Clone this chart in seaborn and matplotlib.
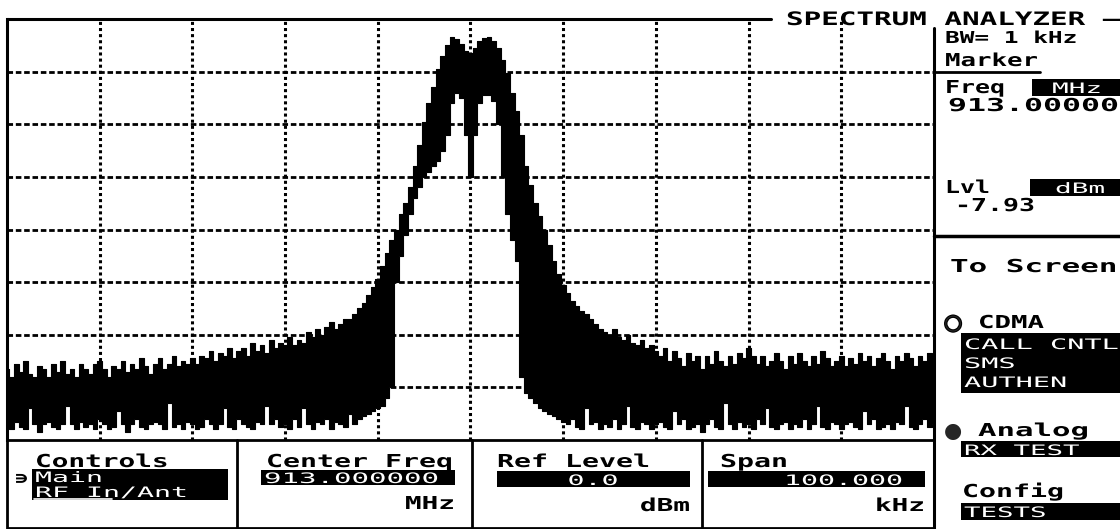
import numpy as np
import matplotlib
matplotlib.use('Agg')
import matplotlib.pyplot as plt
import seaborn as sns
from matplotlib.patheffects import AbstractPathEffect, withStroke
from matplotlib.transforms import Affine2D
from matplotlib.patches import Rectangle

# sweep: 913 MHz centre, 100 kHz span, 0.5 kHz per trace point
freq = np.linspace(-50, 50, 201)

# top of the trace (peak envelope), dBm
upper = [
    # -50.0 .. -30.0
    -66.5, -68, -65.5, -67, -65, -67.5, -68, -66, -66.5, -68,
    -65.5, -67, -65, -67.5, -66.5, -68, -65.5, -66.5, -67.5, -65.5,
    -65, -66.5, -68, -66, -66.5, -65, -67, -65.5, -66.5, -64.5,
    -66, -67.5, -65.5, -64.5, -66.5, -65.5, -64, -66, -65, -65.5,
    -64.5,
    # -29.5 .. -20.0
    -65.5, -64, -64.5, -63, -65, -63.5, -64, -62.5, -64.5, -63,
    -62.5, -64, -61.5, -63, -62, -63.5, -61, -62.5, -61.5, -62,
    # -19.5 .. -12.0
    -60.5, -62, -61, -61.5, -59.5, -60.5, -59, -60, -58.5, -57.5,
    -59, -58, -57, -57, -56, -55,
    # -11.5 .. -8.0
    -54, -52.5, -51, -49.5, -47, -44.5, -42, -40,
    # -7.5 .. -2.0
    -37, -35, -32, -28, -24, -19.5, -16, -13, -9.5, -7, -5, -3.4,
    # -1.5 .. 1.5
    -3.8, -4.8, -6, -6.5, -5.5, -4.2, -3.6,
    # 2.0 .. 7.5
    -3.5, -4.2, -5.5, -7.8, -10.3, -14, -17.5, -22, -28, -31.5, -35, -37.5,
    # 8.0 .. 15.0
    -40, -43, -46, -48.5, -50.5, -52, -53.5, -54.5, -55.5, -56,
    -57, -58, -59, -59.5, -60,
    # 15.5 .. 20.0
    -59, -60.5, -61, -60, -61.5, -62, -61, -62.5, -62, -63,
    # 20.5 .. 50.0
    -64, -62.5, -65, -63, -64.5, -66, -63.5, -65, -64, -66.5,
    -64, -65.5, -63, -65, -66, -64, -65.5, -63.5, -64.5, -62.5,
    -64, -65.5, -64, -66, -65, -63.5, -65, -66.5, -64, -65.5,
    -63.5, -65, -66, -64, -65.5, -63, -64.5, -66, -65, -64,
    -66, -64.5, -65.5, -63.5, -65, -64, -66, -64.5, -63.5, -65,
    -66.5, -64, -65, -63.5, -64.5, -66, -64, -65, -63.5, -65,
]

# bottom of the trace (min envelope), dBm
lower = [
    # -50.0 .. -12.5
    -77, -78, -76.5, -77.5, -78, -74, -77, -78.5, -77, -76.5,
    -77.5, -78, -77, -73.5, -77, -78, -76.5, -77.5, -77, -78,
    -76, -77, -78, -77.5, -74.5, -77, -78.5, -77, -76, -77.5,
    -78, -77, -76.5, -77, -78, -73, -77.5, -77, -78, -76.5,
    -77, -78, -77.5, -76, -77, -78, -77, -74, -77.5, -78,
    -76, -77, -77.5, -78, -76.5, -77, -73.5, -77, -76, -77.5,
    -77, -78, -76, -77.5, -74, -77, -78, -76.5, -77, -76,
    -78, -76.5, -77, -77.5, -75, -77,
    # -12.0 .. -9.5
    -76, -75.5, -75, -74.5, -74, -73.5,
    # -9.0 .. 10.0
    -72, -70, -50, -45, -41, -37, -34, -32, -30, -29,
    -28, -27, -25, -22, -16, -14, -15, -22, -30, -22,
    -16, -14.5, -14.5, -15.5, -20, -30, -37, -42, -46, -68,
    -71, -72, -73, -74, -74.5, -75, -75.5, -76, -76.5,
    # 10.5 .. 50.0
    -77, -76, -77.5, -78, -74, -77, -76.5, -78, -77, -77.5,
    -76, -78, -77, -73.5, -77.5, -78, -76.5, -77, -78, -77,
    -76.5, -77.5, -78, -74.5, -77, -76, -78, -77.5, -77, -78.5,
    -77, -76, -77.5, -78, -73, -77, -78, -76.5, -77.5, -77,
    -78, -76, -77, -74, -77.5, -78, -77, -76.5, -78, -77,
    -77.5, -76, -78, -77, -73.5, -77.5, -78, -76.5, -77, -78,
    -77, -76.5, -77.5, -78, -74.5, -77, -76, -78, -77.5, -77,
    -78, -76.5, -77, -73.5, -77.5, -78, -77, -76, -77.5, -77,
]

# 10 kHz/div and 10 dB/div graticule (outer edges are the frame)
freq_grid = [-40, -30, -20, -10, 0, 10, 20, 30, 40]
level_grid = [-70, -60, -50, -40, -30, -20, -10]


class Stretch(AbstractPathEffect):
    # the analyser font is short and wide-pitched: widen the glyphs
    def __init__(self, sx):
        super().__init__()
        self.sx = sx

    def draw_path(self, renderer, gc, tpath, affine, rgbFace=None):
        renderer.draw_path(gc, tpath, Affine2D().scale(self.sx, 1.0) + affine, rgbFace)


sns.set_style("white")
plt.rcParams['font.family'] = ['DejaVu Sans Mono', 'DejaVu Sans']

fig = plt.figure(figsize=(11.2, 5.29), dpi=100)
W, H = 1120, 529

# trace area
ax = fig.add_axes([7 / W, (H - 440) / H, 927 / W, 421 / H])
ax.fill_between(freq, lower, upper, step='mid', color='black', lw=0, zorder=3)
sns.lineplot(x=freq, y=upper, ax=ax, color='black', lw=0.8, drawstyle='steps-mid',
             estimator=None, zorder=4)
sns.lineplot(x=freq, y=lower, ax=ax, color='black', lw=0.8, drawstyle='steps-mid',
             estimator=None, zorder=4)
ax.set_xlim(-50, 50)
ax.set_ylim(-80, 0)
ax.set_xticks(freq_grid)
ax.set_yticks(level_grid)
ax.set_xticklabels([])
ax.set_yticklabels([])
ax.tick_params(length=0)
ax.set_xlabel('')
ax.set_ylabel('')
ax.set_axisbelow(True)
ax.grid(axis='y', color='black', lw=2, linestyle=(0, (2, 1)))
ax.grid(axis='x', color='black', lw=2.2, linestyle=(0, (1, 1)))
for side in ['top', 'right', 'bottom']:
    ax.spines[side].set_visible(False)
ax.spines['left'].set_color('black')
ax.spines['left'].set_linewidth(2.2)

# screen furniture in pixel coordinates
ov = fig.add_axes([0, 0, 1, 1], zorder=5)
ov.set_xlim(0, W)
ov.set_ylim(H, 0)
ov.axis('off')
ov.patch.set_alpha(0)


def label(x, y, s, cap=13.0, pitch=16.7, color='black', ha='left', weight='bold'):
    px = cap / 0.729
    sx = pitch / (0.602 * px)
    if ha == 'right':
        x = x - len(s) * pitch
    elif ha == 'center':
        x = x - len(s) * pitch / 2
    ov.text(x, y, s, color=color, fontsize=px * 0.72, ha='left', va='baseline',
            fontweight=weight, family=['DejaVu Sans Mono', 'DejaVu Sans'],
            path_effects=[Stretch(sx)])


def box(x, y, w, h):
    ov.add_patch(Rectangle((x, y), w, h, color='black', lw=0))


ov.plot([7, 771], [19, 19], color='black', lw=2.2)
ov.plot([934, 934], [28, 529], color='black', lw=2.2)
ov.plot([934, 1040], [72, 72], color='black', lw=2)
ov.plot([934, 1120], [236, 236], color='black', lw=2.5)

label(786, 25, 'SPECTRUM ANALYZER —', cap=13.5, pitch=17.6)

# marker readout
label(945, 43, 'BW= 1 kHz', cap=12, pitch=14.7)
label(945, 66, 'Marker', pitch=15.5)
label(945, 93, 'Freq', pitch=15)
box(1032, 79, 88, 17)
label(1052, 93, 'MHz', color='white', cap=10.5, weight='normal')
label(948, 111, '913.00000', pitch=19)
label(945, 193, 'Lvl', pitch=15)
box(1030, 179, 90, 17)
label(1055, 193, 'dBm', color='white', cap=10.5, weight='normal')
label(955, 211, '-7.93', pitch=16)

# screen selector
label(950, 272, 'To Screen', pitch=18.6)
ov.text(944, 329, '○', fontsize=15, va='baseline', ha='left', family=['DejaVu Sans'],
        path_effects=[withStroke(linewidth=1.6, foreground='black')])
label(978, 328, 'CDMA', pitch=16.5)
box(961, 333, 159, 60)
label(964, 349, 'CALL CNTL', color='white', cap=10.5, pitch=17.2, weight='normal')
label(964, 368, 'SMS', color='white', cap=10.5, pitch=17.2, weight='normal')
label(964, 387, 'AUTHEN', color='white', cap=10.5, pitch=17.2, weight='normal')
ov.text(944, 437, '●', fontsize=15, va='baseline', ha='left', family=['DejaVu Sans'])
label(978, 436, 'Analog', pitch=18.5)
box(961, 441, 159, 16)
label(964, 455, 'RX TEST', color='white', cap=10.5, pitch=16.5, weight='normal')
label(962, 497, 'Config', pitch=17)
box(961, 503, 159, 17)
label(964, 517, 'TESTS', color='white', cap=10.5, pitch=16.5, weight='normal')

# control fields along the bottom
ov.add_patch(Rectangle((7, 440), 927, 88, fill=False, ec='black', lw=2))
for xd in [237, 472, 702]:
    ov.plot([xd, xd], [440, 528], color='black', lw=2)

label(35, 467, 'Controls')
box(32, 469, 196, 31)
label(15, 484, '∍', cap=13, pitch=13)
label(35, 482, 'Main', color='white', cap=10.5, pitch=17, weight='normal')
label(35, 497, 'RF In/Ant', color='white', cap=10.5, pitch=17, weight='normal')
ov.plot([34, 112], [499, 499], color='white', lw=1.2)

label(266, 467, 'Center Freq', pitch=17)
box(261, 470, 194, 15)
label(264, 483, '913.000000', color='white', cap=10.5, pitch=17.5, weight='normal')
label(455, 509, 'MHz', ha='right')

label(497, 467, 'Ref Level', pitch=17)
box(497, 471, 193, 16)
label(593, 485, '0.0', color='white', cap=10.5, pitch=17, ha='center', weight='normal')
label(690, 511, 'dBm', ha='right')

label(720, 467, 'Span', pitch=17)
box(708, 471, 217, 16)
label(903, 485, '100.000', color='white', cap=10.5, pitch=17, ha='right', weight='normal')
label(925, 511, 'kHz', ha='right')

fig.savefig('out.png', dpi=100)
